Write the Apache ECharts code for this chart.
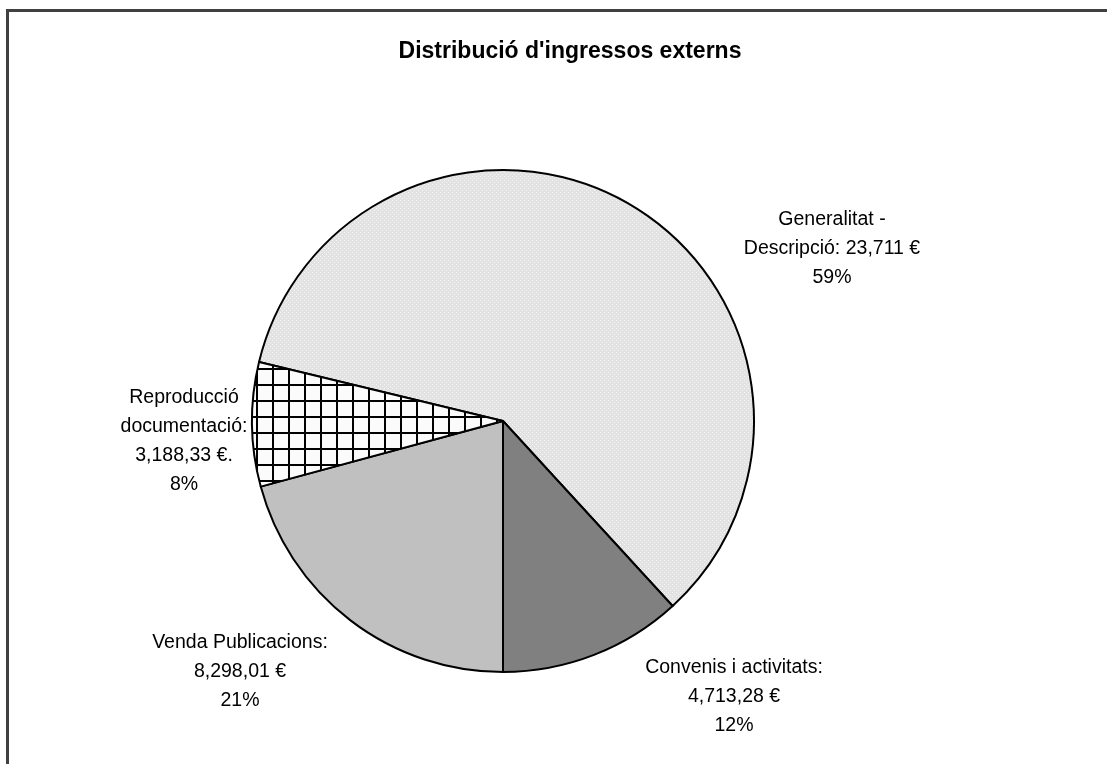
<!DOCTYPE html>
<html>
<head>
<meta charset="utf-8">
<script src="https://cdn.jsdelivr.net/npm/echarts@6/dist/echarts.min.js"></script>
<style>
  html, body { margin: 0; padding: 0; background: #fff; }
  #chart { width: 1107px; height: 764px; }
</style>
</head>
<body>
<div id="chart"></div>
<script>
// data
const categories = [
  "Generalitat -\nDescripció:",
  "Convenis i activitats:",
  "Venda Publicacions:",
  "Reproducció\ndocumentació:"
];
const amounts = [23711, 4713.28, 8298.01, 3188.33];
const amountLabels = ["23,711 €", "4,713,28 €", "8,298,01 €", "3,188,33 €."];

// label placement (center of each text block)
const labelPos = [
  [832, 249],
  [734, 697],
  [240, 672],
  [184, 441]
];

// fill patterns like the old excel ones
function dotPattern() {
  const c = document.createElement("canvas");
  c.width = 4; c.height = 4;
  const ctx = c.getContext("2d");
  ctx.fillStyle = "#e2e2e2";
  ctx.fillRect(0, 0, 4, 4);
  ctx.fillStyle = "#f6f6f6";
  ctx.fillRect(0, 0, 1, 1);
  ctx.fillRect(2, 2, 1, 1);
  return c;
}
function gridPattern() {
  const c = document.createElement("canvas");
  c.width = 16; c.height = 16;
  const ctx = c.getContext("2d");
  ctx.fillStyle = "#fbfbfb";
  ctx.fillRect(0, 0, 16, 16);
  ctx.fillStyle = "#000";
  ctx.fillRect(0, 0, 16, 2);
  ctx.fillRect(0, 0, 2, 16);
  return c;
}

const fills = [
  { image: dotPattern(), repeat: "repeat" },
  "#808080",
  "#c0c0c0",
  { image: gridPattern(), repeat: "repeat" }
];

const total = amounts.reduce((a, b) => a + b, 0);
// Venda Publicacions starts straight down
const startAngle = -90 + 360 * (amounts[0] + amounts[1]) / total;

const chart = echarts.init(document.getElementById("chart"));

const option = {
  animation: false,
  title: {
    text: "Distribució d'ingressos externs",
    left: 565,
    top: 35,
    textAlign: "center",
    textStyle: {
      fontFamily: "Liberation Sans",
      fontSize: 23,
      fontWeight: "bold",
      color: "#000"
    }
  },
  graphic: [
    {
      type: "rect",
      shape: { x: 7.5, y: 10.5, width: 1200, height: 1000 },
      style: { fill: "none", stroke: "#404040", lineWidth: 3 },
      silent: true
    }
  ],
  series: [
    {
      type: "pie",
      center: [503, 421],
      radius: 251,
      startAngle: startAngle,
      clockwise: true,
      percentPrecision: 0,
      avoidLabelOverlap: false,
      emphasis: { disabled: true },
      itemStyle: { borderColor: "#000", borderWidth: 2 },
      labelLine: { show: false },
      label: {
        position: "outside",
        fontFamily: "Liberation Sans",
        fontSize: 19.5,
        lineHeight: 29,
        color: "#000",
        align: "center",
        formatter: (p) => p.name + (p.dataIndex === 0 ? " " : "\n") + amountLabels[p.dataIndex] + "\n" + p.percent + "%"
      },
      labelLayout: (p) => ({
        x: labelPos[p.dataIndex][0],
        y: labelPos[p.dataIndex][1],
        align: "center",
        verticalAlign: "middle"
      }),
      data: categories.map((name, i) => ({
        name: name,
        value: amounts[i],
        itemStyle: { color: fills[i] }
      }))
    }
  ]
};

chart.setOption(option);
</script>
</body>
</html>
